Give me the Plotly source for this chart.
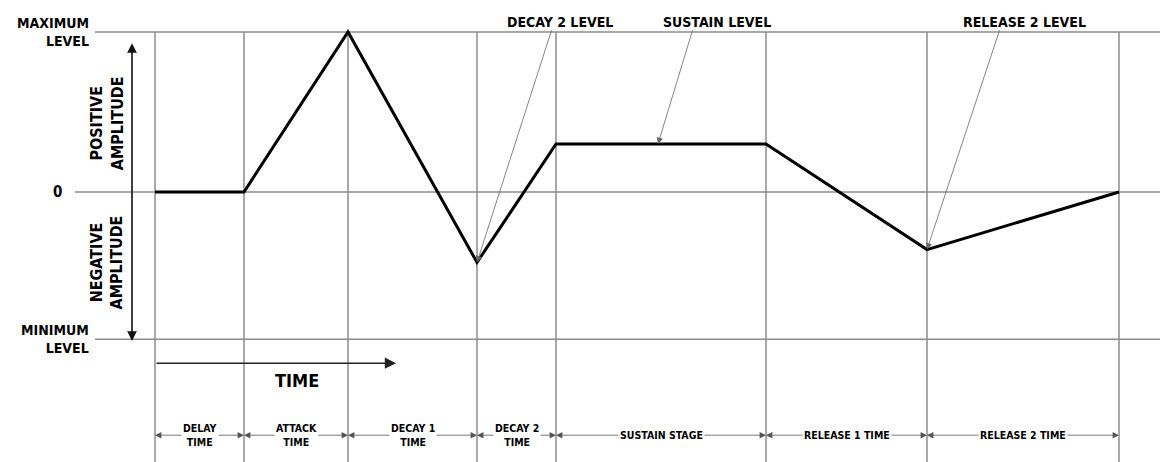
import plotly.graph_objects as go

# ---------------- data ----------------
stage_labels = ["DELAY<br>TIME", "ATTACK<br>TIME", "DECAY 1<br>TIME", "DECAY 2<br>TIME",
                "SUSTAIN STAGE", "RELEASE 1 TIME", "RELEASE 2 TIME"]
boundary_times = [0.0, 8.9, 19.3, 32.2, 40.1, 61.1, 77.2, 96.4]
envelope_levels = [0.0, 0.0, 1.0, -0.44, 0.30, 0.30, -0.36, 0.0]
level_names = ["MAXIMUM<br>LEVEL", "0", "MINIMUM<br>LEVEL"]
level_values = [1.0, 0.0, -0.92]
pointer_labels = ["DECAY 2 LEVEL", "SUSTAIN LEVEL", "RELEASE 2 LEVEL"]
pointer_label_x = [40.5, 56.2, 86.9]
pointer_tail_x = [39.7, 53.8, 84.5]
pointer_head_x = [boundary_times[3], 50.3, boundary_times[6]]
pointer_head_y = [envelope_levels[3], envelope_levels[4], envelope_levels[6]]

FONT = "DejaVu Sans Condensed, Liberation Sans Narrow, Arial Narrow, sans-serif"
GRID = "#8c8c8c"

fig = go.Figure()

# envelope
fig.add_trace(go.Scatter(x=boundary_times, y=envelope_levels, mode="lines",
                         line=dict(color="black", width=3), hoverinfo="skip",
                         showlegend=False))

shapes = []
# level lines
level_line_start = [-6.0, -8.0, -6.0]
for lv, x0 in zip(level_values, level_line_start):
    shapes.append(dict(type="line", x0=x0, x1=105, y0=lv, y1=lv,
                       line=dict(color=GRID, width=1.5), layer="below"))
# stage boundary lines
for t in boundary_times:
    shapes.append(dict(type="line", x0=t, x1=t, y0=level_values[0], y1=-1.8,
                       line=dict(color=GRID, width=1.5), layer="below"))

annotations = []
# level labels
for name, lv in zip(level_names, level_values):
    if name == "0":
        annotations.append(dict(x=-9.8, y=lv, text="<b>0</b>", showarrow=False,
                                xanchor="center", yanchor="middle",
                                font=dict(family=FONT, size=15, color="black")))
    else:
        annotations.append(dict(x=-6.4, y=lv, text="<b>" + name + "</b>", showarrow=False,
                                xanchor="right", yanchor="middle", align="right",
                                font=dict(family=FONT, size=14, color="black")))

# amplitude double arrow
annotations.append(dict(x=-2.3, y=0.93, ax=-2.3, ay=-0.94, axref="x", ayref="y",
                        xref="x", yref="y", text="", showarrow=True,
                        arrowhead=2, startarrowhead=2, arrowside="end+start",
                        arrowsize=1.2, startarrowsize=1.2, arrowwidth=1.6, arrowcolor="#111"))
annotations.append(dict(x=-4.8, y=0.43, text="<b>POSITIVE<br>AMPLITUDE</b>", textangle=-90,
                        showarrow=False, font=dict(family=FONT, size=16, color="black")))
annotations.append(dict(x=-4.8, y=-0.44, text="<b>NEGATIVE<br>AMPLITUDE</b>", textangle=-90,
                        showarrow=False, font=dict(family=FONT, size=16, color="black")))

# time arrow
annotations.append(dict(x=24.1, y=-1.07, ax=0, ay=-1.07, axref="x", ayref="y",
                        text="", showarrow=True, arrowhead=2, arrowsize=1.4,
                        arrowwidth=1.6, arrowcolor="#222"))
annotations.append(dict(x=14.2, y=-1.175, text="<b>TIME</b>", showarrow=False,
                        font=dict(family=FONT, size=18, color="black")))

# pointer labels and leader lines
for lab, lx, tx, hx, hy in zip(pointer_labels, pointer_label_x, pointer_tail_x,
                               pointer_head_x, pointer_head_y):
    annotations.append(dict(x=lx, y=1.065, text="<b>" + lab + "</b>", showarrow=False,
                            yanchor="middle",
                            font=dict(family=FONT, size=14, color="black")))
    annotations.append(dict(x=hx, y=hy, ax=tx, ay=1.02, axref="x", ayref="y",
                            text="", showarrow=True, arrowhead=2, arrowsize=1.6,
                            arrowwidth=0.8, arrowcolor="#666"))

# stage dimension arrows
dim_y = -1.52
for i, lab in enumerate(stage_labels):
    t0, t1 = boundary_times[i], boundary_times[i + 1]
    mid = (t0 + t1) / 2
    for head in (t0, t1):
        annotations.append(dict(x=head, y=dim_y, ax=mid, ay=dim_y, axref="x", ayref="y",
                                text="", showarrow=True, arrowhead=2, arrowsize=1.6,
                                arrowwidth=0.8, arrowcolor="#555"))
    annotations.append(dict(x=mid, y=dim_y, text="<b>" + lab + "</b>", showarrow=False,
                            bgcolor="white", borderpad=1,
                            font=dict(family=FONT, size=10.5, color="black")))

# page body has an 8px margin: size the figure to the visible area
fig.update_layout(
    width=1160, height=454,
    margin=dict(l=0, r=0, t=0, b=0, pad=0),
    paper_bgcolor="white", plot_bgcolor="white",
    xaxis=dict(range=[-14.7, 101.3], visible=False, fixedrange=True),
    yaxis=dict(range=[-1.6875, 1.15], visible=False, fixedrange=True),
    shapes=shapes, annotations=annotations, showlegend=False,
)

fig.write_html("out.html")
